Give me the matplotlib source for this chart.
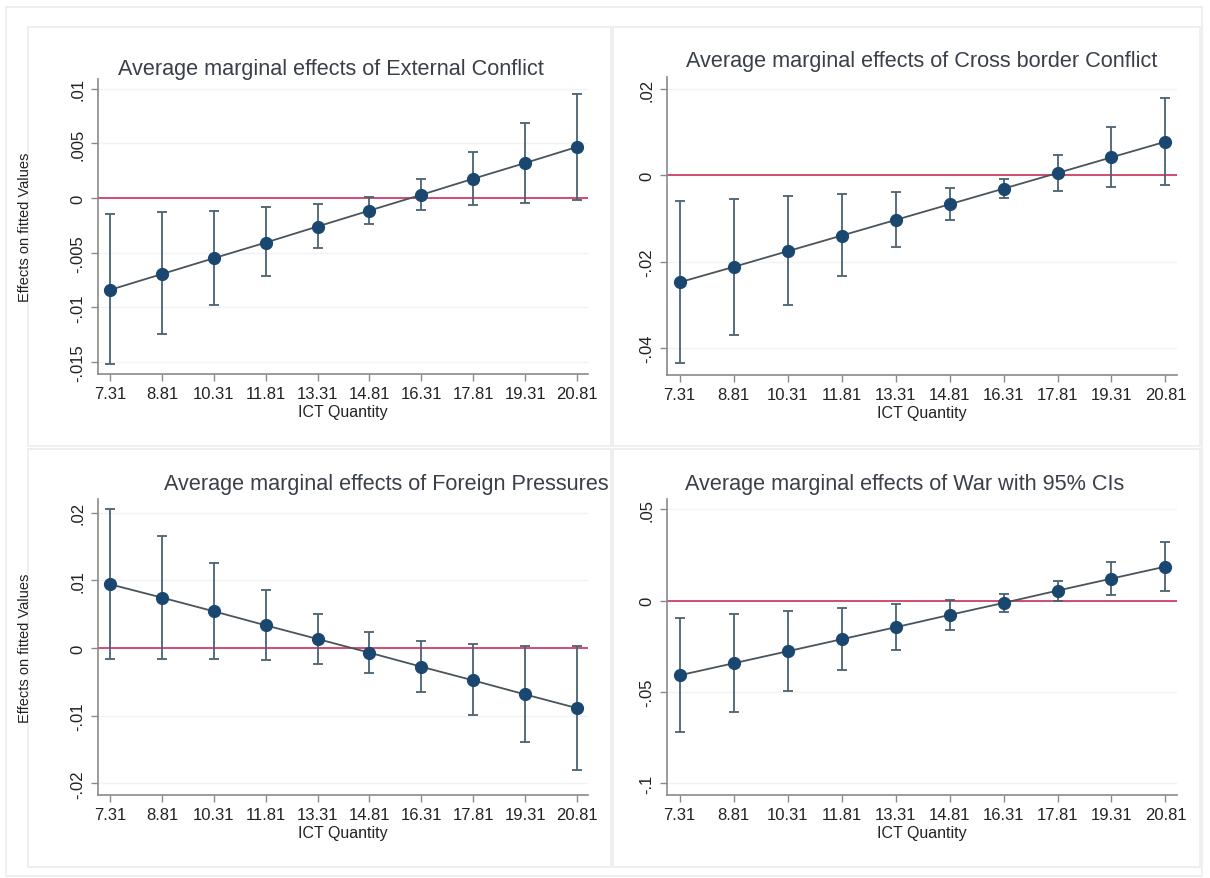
import numpy as np
import matplotlib
matplotlib.use("Agg")
import matplotlib.pyplot as plt
from matplotlib.patches import Rectangle

plt.rcParams['font.family'] = ['Liberation Sans', 'DejaVu Sans']

# ICT quantity grid where margins were evaluated
ict = [7.31, 8.81, 10.31, 11.81, 13.31, 14.81, 16.31, 17.81, 19.31, 20.81]
ict_labels = ['7.31', '8.81', '10.31', '11.81', '13.31', '14.81', '16.31', '17.81', '19.31', '20.81']

# external conflict
ext_me = [-0.0084, -0.00695, -0.0055, -0.00407, -0.0026, -0.00114, 0.0003, 0.00177, 0.00321, 0.00468]
ext_lo = [-0.0152, -0.01248, -0.00982, -0.00713, -0.00456, -0.00233, -0.0011, -0.00064, -0.00043, -0.00016]
ext_hi = [-0.00147, -0.00123, -0.00114, -0.00083, -0.00055, 0.00012, 0.00177, 0.00425, 0.00684, 0.0095]

# cross border conflict
cbc_me = [-0.0248, -0.02124, -0.0176, -0.01398, -0.01035, -0.00672, -0.00309, 0.00054, 0.00417, 0.0078]
cbc_lo = [-0.04363, -0.03691, -0.03012, -0.0234, -0.01668, -0.01027, -0.00525, -0.00363, -0.00278, -0.00224]
cbc_hi = [-0.00595, -0.0054, -0.00486, -0.00432, -0.00386, -0.00301, -0.00085, 0.00463, 0.01127, 0.01784]

# foreign pressures
fp_me = [0.00941, 0.00744, 0.00542, 0.00335, 0.00133, -0.00069, -0.00276, -0.00478, -0.00685, -0.00887]
fp_lo = [-0.00158, -0.00158, -0.00163, -0.00177, -0.00232, -0.00369, -0.0065, -0.00995, -0.01394, -0.01798]
fp_hi = [0.02059, 0.01655, 0.01261, 0.00862, 0.00507, 0.00232, 0.00103, 0.00054, 0.0003, 0.0003]

# war
war_me = [-0.04088, -0.03431, -0.02774, -0.02117, -0.0146, -0.00785, -0.00128, 0.00547, 0.01204, 0.01861]
war_lo = [-0.07208, -0.06077, -0.04927, -0.03796, -0.02682, -0.01588, -0.0062, 0.0, 0.00328, 0.00547]
war_hi = [-0.00949, -0.00748, -0.00584, -0.00383, -0.00182, 0.00018, 0.00383, 0.01095, 0.02117, 0.03212]

W, H = 1210, 879
fig = plt.figure(figsize=(W / 100, H / 100), dpi=100)
fig.patch.set_facecolor('white')


def px(x0, y0, x1, y1):
    return [x0 / W, 1 - y1 / H, (x1 - x0) / W, (y1 - y0) / H]


# faint frames around the whole graph and each sub-graph
frame_col = '#ececec'
fig.patches.append(Rectangle((6 / W, 1 - 877 / H), 1196 / W, 869 / H, transform=fig.transFigure,
                             fill=False, ec=frame_col, lw=1.2))
for (x0, y0, x1, y1) in [(28, 28, 611, 447), (613, 28, 1200, 447),
                         (28, 450, 611, 868), (613, 450, 1200, 868)]:
    fig.patches.append(Rectangle((x0 / W, 1 - y1 / H), (x1 - x0) / W, (y1 - y0) / H,
                                 transform=fig.transFigure, fill=False, ec=frame_col, lw=1.2))

panels = [
    dict(box=(98, 80, 588, 375), me=ext_me, lo=ext_lo, hi=ext_hi,
         yt=[0.01, 0.005, 0, -0.005, -0.01, -0.015], ytl=['.01', '.005', '0', '-.005', '-.01', '-.015'],
         ylim=(-0.0161, 0.0109), title='Average marginal effects of External Conflict',
         tpos=(331, 70), ylab=True),
    dict(box=(667, 78, 1177, 376), me=cbc_me, lo=cbc_lo, hi=cbc_hi,
         yt=[0.02, 0, -0.02, -0.04], ytl=['.02', '0', '-.02', '-.04'],
         ylim=(-0.0463, 0.0228), title='Average marginal effects of Cross border Conflict',
         tpos=(922, 62), ylab=False),
    dict(box=(98, 500, 588, 796), me=fp_me, lo=fp_lo, hi=fp_hi,
         yt=[0.02, 0.01, 0, -0.01, -0.02], ytl=['.02', '.01', '0', '-.01', '-.02'],
         ylim=(-0.0217, 0.022), title='Average marginal effects of Foreign Pressures',
         tpos=(386, 485), ylab=True),
    dict(box=(667, 500, 1177, 796), me=war_me, lo=war_lo, hi=war_hi,
         yt=[0.05, 0, -0.05, -0.1], ytl=['.05', '0', '-.05', '-.1'],
         ylim=(-0.1064, 0.0556), title='Average marginal effects of War with 95% CIs',
         tpos=(905, 485), ylab=False),
]

axis_col = '#8a8a8a'
for p in panels:
    ax = fig.add_axes(px(*p['box']))
    ax.set_facecolor('white')
    x = np.array(ict)
    me = np.array(p['me'])
    lo = np.array(p['lo'])
    hi = np.array(p['hi'])

    for yv in p['yt']:
        ax.axhline(yv, color='#f1f2f4', lw=1.0, zorder=0)
    ax.axhline(0, color='#c9305a', lw=1.2, zorder=1)

    ax.errorbar(x, me, yerr=[me - lo, hi - me], fmt='none', ecolor='#4a6272',
                elinewidth=1.3, capsize=3.5, capthick=1.3, zorder=2)
    ax.plot(x, me, color='#4a545a', lw=1.3, zorder=3)
    ax.plot(x, me, 'o', color='#1a476f', ms=8.5, zorder=4)

    ax.set_xlim(6.96, 21.13)
    ax.set_ylim(*p['ylim'])
    ax.set_xticks(ict)
    ax.set_xticklabels(ict_labels, fontsize=12, color='#222222')
    ax.set_yticks(p['yt'])
    ax.set_yticklabels(p['ytl'], fontsize=12, color='#222222', rotation=90, va='center')
    ax.set_xlabel('ICT Quantity', fontsize=11.5, color='#222222', labelpad=2)
    ax.tick_params(axis='both', direction='out', length=5, width=1, color=axis_col, pad=4)
    for s in ['top', 'right']:
        ax.spines[s].set_visible(False)
    for s in ['left', 'bottom']:
        ax.spines[s].set_color(axis_col)
        ax.spines[s].set_linewidth(1.2)

    fig.text(p['tpos'][0] / W, 1 - p['tpos'][1] / H, p['title'], fontsize=15.6,
             color='#3a3f48', ha='center', va='center')
    if p['ylab']:
        cy = (p['box'][1] + p['box'][3]) / 2
        fig.text(25 / W, 1 - cy / H, 'Effects on fitted Values', fontsize=10.5,
                 color='#222222', rotation=90, ha='center', va='center')

fig.savefig('out.png', dpi=100)
